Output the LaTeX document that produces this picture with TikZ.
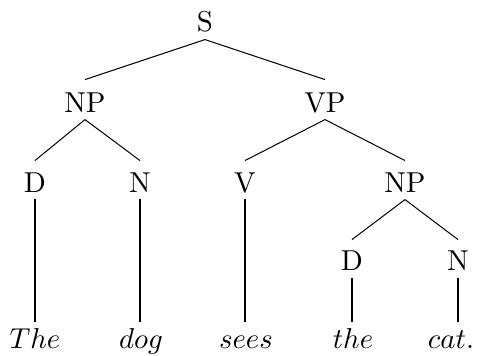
\documentclass[tikz,border=0pt]{standalone}
\usepackage{tikz}
\usetikzlibrary{positioning,calc}

\begin{document}
\begin{tikzpicture}[
    x=0.5pt, y=-0.5pt,
    cat/.style={inner sep=0pt, anchor=base, scale=1.44, transform shape, text height=6.9pt, text depth=0pt},
    leaf/.style={inner sep=0pt, anchor=base, scale=1.44, transform shape, text height=6.9pt, text depth=0pt},
    branch/.style={line width=0.5pt},
    stem/.style={line width=1pt}
]
\useasboundingbox (0,0) rectangle (483,355);

% Categories
\node[cat] (s) at (205,31) {S};
\node[cat] (np) at (85,112) {NP};
\node[cat] (vp) at (325,112) {VP};
\node[cat] (d) at (35,192) {D};
\node[cat] (n) at (140,192) {N};
\node[cat] (v) at (245,192) {V};
\node[cat] (np2) at (405,192) {NP};
\node[cat] (d2) at (352,270) {D};
\node[cat] (n2) at (458,270) {N};

% Words
\node[leaf] (the) at (35,348) {$The$};
\node[leaf] (dog) at (141,348) {$dog$};
\node[leaf] (sees) at (246,348) {$sees$};
\node[leaf] (the2) at (353,348) {$the$};
\node[leaf] (cat) at (451,348) {$cat.$};

% Branches
\draw[branch] ([yshift=-4pt]s.south) -- ([yshift=6pt]np.north);
\draw[branch] ([yshift=-4pt]s.south) -- ([yshift=6pt]vp.north);
\draw[branch] ([yshift=-3.5pt]np.south) -- ([yshift=5.5pt]d.north);
\draw[branch] ([yshift=-3.5pt]np.south) -- ([yshift=5.5pt]n.north);
\draw[branch] ([yshift=-3.5pt]vp.south) -- ([yshift=5.5pt]v.north);
\draw[branch] ([yshift=-3.5pt]vp.south) -- ([yshift=5.5pt]np2.north);
\draw[branch] ([yshift=-3.5pt]np2.south) -- ([yshift=5pt]d2.north);
\draw[branch] ([yshift=-3.5pt]np2.south) -- ([yshift=5pt]n2.north);

% Stems to the words
\draw[stem] ([yshift=-3pt]d.south) -- ([yshift=3pt]d.south |- the.north);
\draw[stem] ([yshift=-3pt]n.south) -- ([yshift=3pt]n.south |- dog.north);
\draw[stem] ([yshift=-3pt]v.south) -- ([yshift=3pt]v.south |- sees.north);
\draw[stem] ([yshift=-3.5pt]d2.south) -- ([yshift=3pt]d2.south |- the2.north);
\draw[stem] ([yshift=-3.5pt]n2.south) -- ([yshift=3pt]n2.south |- cat.north);

\end{tikzpicture}
\end{document}
